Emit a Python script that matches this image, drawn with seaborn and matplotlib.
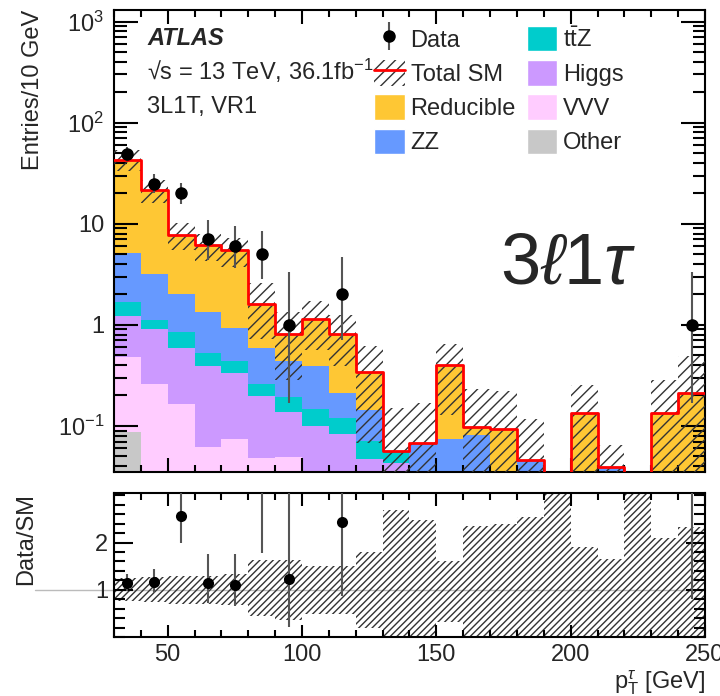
import numpy as np
import pandas as pd
import seaborn as sns
import matplotlib.pyplot as plt
from matplotlib.patches import Patch
from matplotlib.lines import Line2D
from matplotlib.ticker import FixedLocator, MultipleLocator, LogLocator, NullFormatter

"""data read off the plot: 10 GeV bins from 30 to 250 GeV"""

bin_edges = list(range(30, 260, 10))

# stack components (entries / 10 GeV)
reducible = [37.9, 18.3, 5.8, 4.75, 4.52, 1.01, 0.37, 0.76, 0.61, 0.195, 0, 0,
             0.326, 0.017, 0.093, 0, 0, 0.135, 0, 0, 0.135, 0.21]
zz = [3.4, 2.08, 1.15, 0.83, 0.5, 0.33, 0.245, 0.24, 0.09, 0.074, 0, 0.043,
      0.049, 0.071, 0, 0.046, 0, 0, 0.039, 0, 0, 0]
ttz = [0.47, 0.21, 0.25, 0.13, 0.10, 0.06, 0.057, 0.048, 0.037, 0.024, 0.013, 0.005,
       0.01, 0, 0, 0, 0, 0, 0, 0, 0, 0]
higgs = [0.75, 0.65, 0.43, 0.33, 0.26, 0.15, 0.089, 0.08, 0.068, 0.037, 0.038, 0.016,
         0.012, 0.008, 0, 0, 0, 0, 0, 0, 0, 0]
vvv = [0.39, 0.24, 0.156, 0.057, 0.07, 0.045, 0.046, 0.018, 0.013, 0.009, 0.004, 0.004,
       0.003, 0.002, 0, 0, 0, 0, 0, 0, 0, 0]
other = [0.087, 0.02, 0.01, 0.005, 0.004, 0.003, 0.003, 0.002, 0.002, 0.001, 0.001, 0,
         0, 0, 0, 0, 0, 0, 0, 0, 0, 0]

# data with asymmetric poisson errors
data_counts = [49, 25, 20, 7, 6, 5, 1, 0, 2, 0, 0, 0, 0, 0, 0, 0, 0, 0, 0, 0, 0, 1]
data_err_lo = [6.97, 4.96, 4.43, 2.58, 2.38, 2.16, 0.83, 0, 1.29, 0, 0, 0,
               0, 0, 0, 0, 0, 0, 0, 0, 0, 0.83]
data_err_hi = [8.05, 6.06, 5.54, 3.77, 3.58, 3.38, 2.30, 0, 2.64, 0, 0, 0,
               0, 0, 0, 0, 0, 0, 0, 0, 0, 2.30]

# total SM uncertainty band, relative to total SM
band_hi = [1.25, 1.27, 1.30, 1.30, 1.33, 1.62, 1.64, 1.51, 1.51, 1.80, 2.68, 2.47,
           1.60, 2.36, 2.40, 2.54, 3.5, 1.90, 1.65, 3.5, 2.10, 2.33]
band_lo = [0.77, 0.75, 0.70, 0.70, 0.68, 0.45, 0.35, 0.49, 0.48, 0.20, 0, 0,
           0.32, 0, 0, 0, 0, 0, 0, 0, 0, 0]

processes = ['Reducible', 'ZZ', 'ttZ', 'Higgs', 'VVV', 'Other']
labels = ['Reducible', 'ZZ', r't$\bar{\mathrm{t}}$Z', 'Higgs', 'VVV', 'Other']
colors = ['#fec734', '#6699ff', '#00cccc', '#cc99ff', '#ffccff', '#c8c8c8']

y_ticks = [0.1, 1, 10, 100, 1000]
y_ticklabels = [r'$10^{-1}$', '1', '10', r'$10^{2}$', r'$10^{3}$']

"""build long table for seaborn"""

edges = np.array(bin_edges, dtype=float)
centers = 0.5 * (edges[:-1] + edges[1:])
comp = {'Reducible': reducible, 'ZZ': zz, 'ttZ': ttz, 'Higgs': higgs, 'VVV': vvv, 'Other': other}
df = pd.concat([pd.DataFrame({'pt': centers, 'w': comp[p], 'process': p}) for p in processes])

total = np.sum([np.array(comp[p]) for p in processes], axis=0)
data = np.array(data_counts, dtype=float)
has_data = data > 0

"""style"""

sns.set_style('ticks')
plt.rcParams.update({
    'font.family': ['Liberation Sans', 'DejaVu Sans'],
    'mathtext.fontset': 'custom',
    'mathtext.rm': 'Liberation Sans',
    'mathtext.it': 'Liberation Sans:italic',
    'mathtext.sf': 'Liberation Sans',
    'hatch.linewidth': 1.0,
    'hatch.color': '#333333',
    'axes.axisbelow': False,
    'axes.edgecolor': 'black',
    'xtick.direction': 'in', 'ytick.direction': 'in',
})
fs = 17

fig = plt.figure(figsize=(7.2, 6.96), dpi=100)
ax = fig.add_axes([0.1583, 0.3218, 0.8208, 0.6638])
ax2 = fig.add_axes([0.1583, 0.0848, 0.8208, 0.2069])

"""main panel"""

ax.set_yscale('log')
sns.histplot(data=df, x='pt', weights='w', hue='process', hue_order=processes,
             palette=colors, bins=bin_edges, multiple='stack', element='step',
             alpha=1, linewidth=0, legend=False, ax=ax)

# uncertainty hatch
ax.fill_between(edges, np.append(total * band_lo, 0) + 1e-6, np.append(total * band_hi, 0) + 1e-6,
                step='post', facecolor='none', edgecolor='#333333', hatch='///', linewidth=0, zorder=3)

# total SM outline
sns.histplot(x=centers, weights=total, bins=bin_edges, element='step', fill=False,
             color='red', linewidth=2, ax=ax, zorder=4)

ax.errorbar(centers[has_data], data[has_data],
            yerr=[np.array(data_err_lo)[has_data], np.array(data_err_hi)[has_data]],
            fmt='o', color='black', ecolor='#555555', elinewidth=1.5, markersize=8, zorder=5)

ax.set_xlim(30, 250)
ax.set_ylim(0.035, 1300)
ax.yaxis.set_major_locator(FixedLocator(y_ticks))
ax.set_yticklabels(y_ticklabels)
ax.yaxis.set_minor_locator(LogLocator(base=10, subs=np.arange(2, 10)))
ax.yaxis.set_minor_formatter(NullFormatter())
ax.xaxis.set_major_locator(MultipleLocator(50))
ax.xaxis.set_minor_locator(MultipleLocator(10))
ax.tick_params(axis='both', which='both', top=True, right=True, color='black', width=1.5, labelsize=fs)
ax.tick_params(axis='y', which='major', length=17, pad=7)
ax.tick_params(axis='y', which='minor', length=9)
ax.tick_params(axis='x', which='major', length=10, labelbottom=False)
ax.tick_params(axis='x', which='minor', length=5)
ax.set_xlabel('')
ax.set_ylabel('Entries/10 GeV', fontsize=fs, loc='top')
ax.yaxis.set_label_coords(-0.118, 1.0)
for s in ax.spines.values():
    s.set_linewidth(1.5)

ax.text(0.056, 0.924, 'ATLAS', transform=ax.transAxes, fontsize=fs, fontweight='bold', fontstyle='italic')
ax.text(0.056, 0.848, '√s = 13 TeV, 36.1fb$^{-1}$', transform=ax.transAxes, fontsize=fs)
ax.text(0.056, 0.777, '3L1T, VR1', transform=ax.transAxes, fontsize=fs)
ax.text(0.768, 0.409, r'$\mathrm{3}\ell\mathrm{1}\tau$', transform=ax.transAxes, fontsize=52, ha='center')

data_handle = (Line2D([], [], marker='|', color='#555555', markersize=20, markeredgewidth=1.5, linestyle='none'),
               Line2D([], [], marker='o', color='black', markersize=8, linestyle='none'))
handles = [data_handle,
           (Patch(facecolor='none', edgecolor='#333333', hatch='///', linewidth=0),
            Line2D([], [], color='red', linewidth=2)),
           Patch(facecolor=colors[0]), Patch(facecolor=colors[1]),
           Patch(facecolor=colors[2]), Patch(facecolor=colors[3]),
           Patch(facecolor=colors[4]), Patch(facecolor=colors[5])]
leg_labels = ['Data', 'Total SM', labels[0], labels[1], labels[2], labels[3], labels[4], labels[5]]
ax.legend(handles, leg_labels, ncol=2, loc='upper left', bbox_to_anchor=(0.44, 0.966),
          frameon=False, fontsize=fs, handlelength=1.3, handleheight=1.3, handletextpad=0.25,
          labelspacing=0.36, columnspacing=0.45, borderpad=0, borderaxespad=0)

"""ratio panel"""

ratio = np.divide(data, total, out=np.zeros_like(data), where=total > 0)
r_lo = np.divide(np.array(data_err_lo), total, out=np.zeros_like(data), where=total > 0)
r_hi = np.divide(np.array(data_err_hi), total, out=np.zeros_like(data), where=total > 0)
r_top = 3.05
in_range = has_data & (ratio < r_top)

ax2.fill_between(edges, np.append(band_lo, band_lo[-1]), np.append(band_hi, band_hi[-1]),
                 step='post', facecolor='none', edgecolor='#333333', hatch='/////', linewidth=0, zorder=2)
ax2.axhline(1, xmin=-0.134, xmax=1, color='#bbbbbb', linewidth=1, clip_on=False, zorder=1)
ax2.errorbar(centers[has_data], ratio[has_data], yerr=[r_lo[has_data], r_hi[has_data]],
             fmt='none', ecolor='#555555', elinewidth=1.5, zorder=4)
sns.scatterplot(x=centers[in_range], y=ratio[in_range], color='black', s=64, linewidth=0, ax=ax2, zorder=5)

ax2.set_xlim(30, 250)
ax2.set_ylim(0, r_top)
ax2.yaxis.set_major_locator(FixedLocator([1, 2]))
ax2.yaxis.set_minor_locator(MultipleLocator(0.2))
ax2.xaxis.set_major_locator(MultipleLocator(50))
ax2.xaxis.set_minor_locator(MultipleLocator(10))
ax2.tick_params(axis='both', which='both', top=True, right=True, color='black', width=1.5, labelsize=fs)
ax2.tick_params(axis='y', which='major', length=14, pad=4)
ax2.tick_params(axis='y', which='minor', length=8)
ax2.tick_params(axis='x', which='major', length=9, pad=5)
ax2.tick_params(axis='x', which='minor', length=5)
ax2.set_ylabel('Data/SM', fontsize=fs, loc='top')
ax2.yaxis.set_label_coords(-0.13, 1.0)
ax2.set_xlabel(r'p$_{\mathrm{T}}^{\tau}$ [GeV]', fontsize=fs, loc='right', labelpad=2)
for s in ax2.spines.values():
    s.set_linewidth(1.5)

fig.savefig('out.png', dpi=100)
